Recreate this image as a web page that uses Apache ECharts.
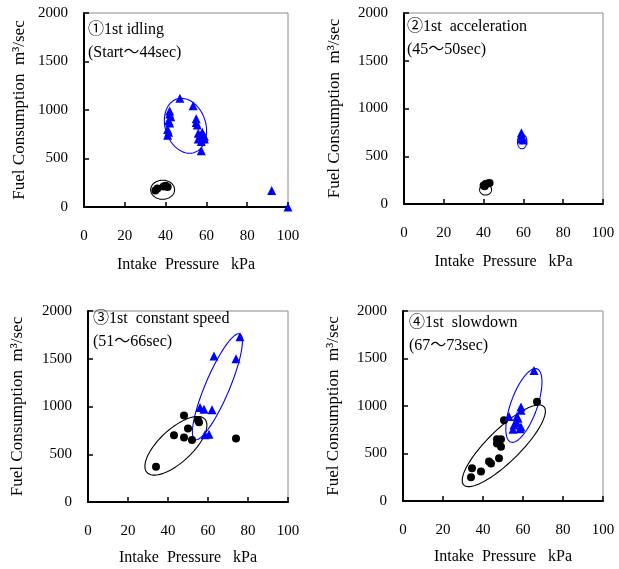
<!DOCTYPE html>
<html><head><meta charset="utf-8">
<script src="https://cdn.jsdelivr.net/npm/echarts@6/dist/echarts.min.js"></script>
<style>html,body{margin:0;padding:0;background:#fff}#c{width:619px;height:569px}</style>
</head><body><div id="c"></div>
<script>
// ---- data ----
const xTicks = [0, 20, 40, 60, 80, 100];
const yTicks = [0, 500, 1000, 1500, 2000];
const panelTitles = [
  ["①1st idling", "(Start～44sec)"],
  ["②1st  acceleration", "(45～50sec)"],
  ["③1st  constant speed", "(51～66sec)"],
  ["④1st  slowdown", "(67～73sec)"]
];
const xName = "Intake  Pressure   kPa";
const yName = "Fuel Consumption  m³/sec";

const p1Blue = [[47,1120],[53.5,1045],[42,990],[42,960],[42.5,930],[41.5,890],[42,865],[41,800],[41.5,770],[41,740],
  [55,910],[55,870],[55.5,845],[56,760],[57,740],[58,720],[59,700],[56,700],[57.5,675],[58,770],[59,730],[57.5,580],[92,170],[100,0]];
const p1Black = [[35,170],[36,190],[39,212],[40,220],[41,205]];
const p2Blue = [[59,745],[59,720],[59.5,700],[59,680],[60,670]];
const p2Black = [[40,195],[41,210],[42,215],[43,220],[40.5,185]];
const p3Blue = [[76,1730],[63,1530],[74,1500],[56,990],[58,970],[62,965],[58.5,705],[60.5,710]];
const p3Black = [[48,905],[55,855],[55.5,835],[50,770],[43,700],[48,675],[52,650],[34,370],[74,665]];
const p4Blue = [[65.5,1375],[59,990],[59,955],[53,890],[57,890],[57.5,870],[55.5,800],[55,755],[59,780],[57,820],[58.5,760]];
const p4Black = [[67,1045],[50.5,850],[47,650],[49,650],[47,605],[49,570],[48,450],[43,415],[44,395],[39,310],[34.5,345],[34,250]];

// ellipse annotations: major-axis end points (data units) + minor/major ratio
const p1BlueEllipse = [45.5,1113,54.0,561,0.72];
const p1BlackEllipse = [32.7,178,44.4,178,0.8];
const p2BlueEllipse = [59.6,728,59.2,578,0.65];
const p2BlackEllipse = [38,150,44,150,0.9];
const p3BlueEllipse = [53.5,654,75.9,1760,0.21];
const p3BlackEllipse = [29.5,309,58.4,868,0.42];
const p4BlueEllipse = [53.9,620,67.0,1391,0.34];
const p4BlackEllipse = [30.4,169,70.4,994,0.29];

const panels = [
  {blue:p1Blue, black:p1Black, eb:p1BlueEllipse, ek:p1BlackEllipse},
  {blue:p2Blue, black:p2Black, eb:p2BlueEllipse, ek:p2BlackEllipse},
  {blue:p3Blue, black:p3Black, eb:p3BlueEllipse, ek:p3BlackEllipse},
  {blue:p4Blue, black:p4Black, eb:p4BlueEllipse, ek:p4BlackEllipse}
];

// ---- layout ----
const FONT = "'Liberation Serif', 'Times New Roman', 'Noto Sans CJK JP', serif";
const grids = [
  {left:84, top:13, width:204, height:194},
  {left:404, top:13, width:199, height:191},
  {left:88, top:311, width:200, height:191},
  {left:403, top:311, width:200, height:190}
];
const yNameGaps = [56, 61, 62, 61];
const xNameGaps = [50, 50, 48, 48];
const titlePos = [[88,18],[407,15],[93,307],[409,311]];

const chart = echarts.init(document.getElementById('c'), null, {renderer:'canvas'});

function ellipseSeries(idx, params, color) {
  return {
    type:'custom', xAxisIndex:idx, yAxisIndex:idx, silent:true, z:1,
    data:[params],
    encode:{x:[0,2], y:[1,3]},
    renderItem: function(p, api) {
      const a1 = api.coord([api.value(0), api.value(1)]);
      const a2 = api.coord([api.value(2), api.value(3)]);
      const ratio = api.value(4);
      const cx = (a1[0]+a2[0])/2, cy = (a1[1]+a2[1])/2;
      const dx = a2[0]-a1[0], dy = a2[1]-a1[1];
      const a = Math.sqrt(dx*dx+dy*dy)/2, b = a*ratio;
      const th = Math.atan2(dy, dx);
      const pts = [];
      for (let i=0;i<96;i++){
        const t = i/96*Math.PI*2;
        const ex = a*Math.cos(t), ey = b*Math.sin(t);
        pts.push([cx + ex*Math.cos(th) - ey*Math.sin(th), cy + ex*Math.sin(th) + ey*Math.cos(th)]);
      }
      return {type:'polygon', shape:{points:pts}, style:{fill:'none', stroke:color, lineWidth:1.1}};
    }
  };
}

const option = {
  animation:false,
  backgroundColor:'#fff',
  grid: grids.map(g => Object.assign({show:true, borderColor:'#8a8a8a', borderWidth:1, backgroundColor:'transparent'}, g)),
  xAxis: grids.map((g,i) => ({
    gridIndex:i, type:'value', min:xTicks[0], max:xTicks[xTicks.length-1], interval:xTicks[1]-xTicks[0],
    name:xName, nameLocation:'middle', nameGap:xNameGaps[i],
    nameTextStyle:{fontFamily:FONT, fontSize:16, color:'#000'},
    axisLine:{show:true, onZero:false, lineStyle:{color:'#000', width:2}},
    axisTick:{show:true, inside:true, length:5, lineStyle:{color:'#000', width:1.5}},
    axisLabel:{fontFamily:FONT, fontSize:15, color:'#000', margin:22, formatter:v => String(v)},
    splitLine:{show:false}
  })),
  yAxis: grids.map((g,i) => ({
    gridIndex:i, type:'value', min:yTicks[0], max:yTicks[yTicks.length-1], interval:yTicks[1]-yTicks[0],
    name:yName, nameLocation:'middle', nameGap:yNameGaps[i], nameRotate:90,
    nameTextStyle:{fontFamily:FONT, fontSize:17, color:'#000'},
    axisLine:{show:true, onZero:false, lineStyle:{color:'#000', width:2}},
    axisTick:{show:true, inside:true, length:5, lineStyle:{color:'#000', width:1.5}},
    axisLabel:{fontFamily:FONT, fontSize:15, color:'#000', margin:16, formatter:v => String(v)},
    splitLine:{show:false}
  })),
  graphic: panelTitles.map((t,i) => ({
    type:'text', left:titlePos[i][0], top:titlePos[i][1], z:100,
    style:{text:t[0]+"\n"+t[1], font:"16px "+FONT, fill:'#000', lineHeight:23}
  })),
  series: []
};

panels.forEach((p,i) => {
  option.series.push(ellipseSeries(i, p.eb, '#0000ff'));
  option.series.push(ellipseSeries(i, p.ek, '#000000'));
  option.series.push({type:'scatter', xAxisIndex:i, yAxisIndex:i, data:p.black, symbol:'circle', symbolSize:8,
    itemStyle:{color:'#000', opacity:1}, z:3});
  option.series.push({type:'scatter', xAxisIndex:i, yAxisIndex:i, data:p.blue, symbol:'triangle', symbolSize:[9,9],
    itemStyle:{color:'#0000ff', opacity:1}, z:4});
});

chart.setOption(option);
</script>
</body></html>
